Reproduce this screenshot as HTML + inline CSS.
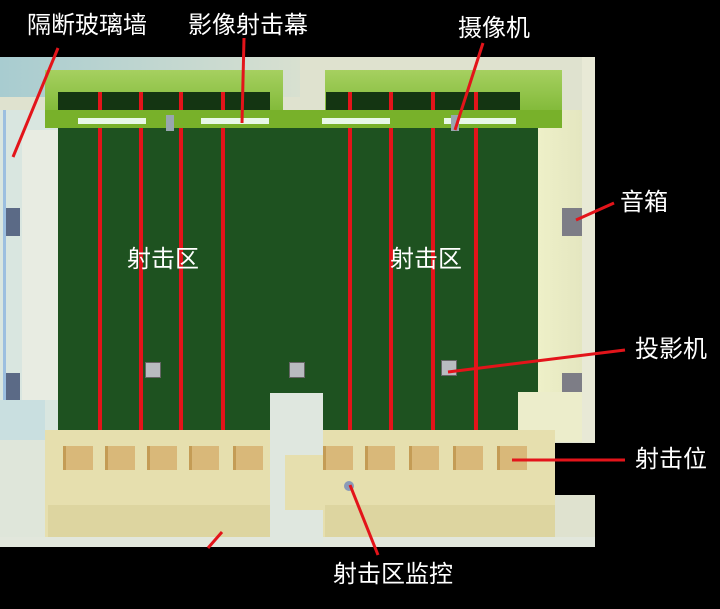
<!DOCTYPE html>
<html><head><meta charset="utf-8"><style>
body{margin:0;background:#000;width:720px;height:609px;overflow:hidden;position:relative;font-family:"Liberation Sans","Noto Sans CJK SC",sans-serif}
div{position:absolute;box-sizing:border-box}
.t{color:#fff;font-size:24px;line-height:24px;white-space:nowrap}
.r{background:#e3141a;width:4px}
.d{background:#d9b879;width:30px;height:24px;border-left:3px solid #c49c55}
.sp{background:#7d7d86;width:20px;height:28px}
.proj{background:#b8bcc0;width:16px;height:16px;border:1px solid #666}
</style></head><body>
<!-- building outer -->
<div style="left:0;top:57px;width:595px;height:490px;background:#dfe2cf"></div>
<div style="left:0;top:57px;width:300px;height:40px;background:linear-gradient(90deg,#a8ccd0,#d8e0d0)"></div>
<div style="left:550px;top:443px;width:50px;height:52px;background:#000"></div>
<!-- left wall glass -->
<div style="left:0;top:110px;width:58px;height:330px;background:#d9e6e0"></div>
<div style="left:3px;top:110px;width:3px;height:300px;background:#9cbfe0"></div>
<div style="left:22px;top:130px;width:36px;height:270px;background:#e8ece2"></div>
<div class="sp" style="left:6px;top:208px;width:14px;background:#5b6a86"></div>
<div class="sp" style="left:6px;top:373px;width:14px;background:#5b6a86"></div>
<div style="left:0;top:400px;width:45px;height:40px;background:#c9dfe0"></div>
<!-- green canopies -->
<div style="left:45px;top:70px;width:238px;height:45px;background:linear-gradient(#a6d060,#7fb836)"></div>
<div style="left:325px;top:70px;width:237px;height:45px;background:linear-gradient(#a6d060,#7fb836)"></div>
<div style="left:58px;top:92px;width:212px;height:20px;background:#143512"></div>
<div style="left:326px;top:92px;width:194px;height:20px;background:#143512"></div>
<!-- field -->
<div style="left:58px;top:110px;width:480px;height:322px;background:#1e5220"></div>
<!-- right wall -->
<div style="left:538px;top:110px;width:44px;height:330px;background:linear-gradient(90deg,#eef0c8,#e4e6c0)"></div>
<div style="left:582px;top:57px;width:13px;height:386px;background:#e8e9d6"></div>
<div class="sp" style="left:562px;top:208px"></div>
<div class="sp" style="left:562px;top:373px"></div>
<div style="left:518px;top:392px;width:64px;height:50px;background:#ecedcb"></div>
<!-- red lines -->
<div class="r" style="left:98px;top:92px;height:338px"></div>
<div class="r" style="left:139px;top:92px;height:338px"></div>
<div class="r" style="left:179px;top:92px;height:338px"></div>
<div class="r" style="left:221px;top:92px;height:338px"></div>
<div class="r" style="left:348px;top:92px;height:338px"></div>
<div class="r" style="left:389px;top:92px;height:338px"></div>
<div class="r" style="left:431px;top:92px;height:338px"></div>
<div class="r" style="left:474px;top:92px;height:338px"></div>
<!-- green band -->
<div style="left:45px;top:110px;width:517px;height:18px;background:#78b12a"></div>
<div style="left:78px;top:118px;width:68px;height:6px;background:#e8f8e8"></div>
<div style="left:201px;top:118px;width:68px;height:6px;background:#e8f8e8"></div>
<div style="left:322px;top:118px;width:68px;height:6px;background:#e8f8e8"></div>
<div style="left:444px;top:118px;width:72px;height:6px;background:#e8f8e8"></div>
<div style="left:166px;top:115px;width:8px;height:16px;background:#99a6b0"></div>
<div style="left:451px;top:115px;width:8px;height:16px;background:#99a6b0"></div>
<!-- projectors -->
<div class="proj" style="left:145px;top:362px"></div>
<div class="proj" style="left:289px;top:362px"></div>
<div class="proj" style="left:441px;top:360px"></div>
<!-- bottom floor -->
<div style="left:45px;top:430px;width:510px;height:107px;background:#e6dfae"></div>
<div style="left:0;top:440px;width:45px;height:100px;background:#dfe6da"></div>
<div style="left:48px;top:505px;width:230px;height:32px;background:#ddd5a0"></div>
<div style="left:325px;top:505px;width:230px;height:32px;background:#ddd5a0"></div>
<div style="left:0;top:537px;width:595px;height:10px;background:#e2e7dc"></div>
<div style="left:270px;top:393px;width:53px;height:150px;background:#dfe7df"></div>
<div style="left:285px;top:455px;width:40px;height:55px;background:#e6dfae"></div>
<!-- desks -->
<div class="d" style="left:63px;top:446px"></div>
<div class="d" style="left:105px;top:446px"></div>
<div class="d" style="left:147px;top:446px"></div>
<div class="d" style="left:189px;top:446px"></div>
<div class="d" style="left:233px;top:446px"></div>
<div class="d" style="left:323px;top:446px"></div>
<div class="d" style="left:365px;top:446px"></div>
<div class="d" style="left:409px;top:446px"></div>
<div class="d" style="left:453px;top:446px"></div>
<div class="d" style="left:497px;top:446px"></div>
<div style="left:344px;top:481px;width:10px;height:10px;border-radius:50%;background:#8a9ab8"></div>
<!-- leader lines -->
<svg style="position:absolute;left:0;top:0" width="720" height="609">
<g stroke="#e3141a" stroke-width="3">
<line x1="58" y1="48" x2="13" y2="157"/>
<line x1="244" y1="38" x2="242" y2="123"/>
<line x1="483" y1="43" x2="455" y2="130"/>
<line x1="614" y1="203" x2="576" y2="220"/>
<line x1="625" y1="350" x2="448" y2="372"/>
<line x1="625" y1="460" x2="512" y2="460"/>
<line x1="350" y1="485" x2="378" y2="555"/>
<line x1="222" y1="532" x2="208" y2="548"/>
</g></svg>
<!-- labels -->
<div class="t" style="left:27px;top:14px">隔断玻璃墙</div>
<div class="t" style="left:188px;top:14px">影像射击幕</div>
<div class="t" style="left:458px;top:17px">摄像机</div>
<div class="t" style="left:620px;top:191px">音箱</div>
<div class="t" style="left:635px;top:338px">投影机</div>
<div class="t" style="left:635px;top:448px">射击位</div>
<div class="t" style="left:333px;top:563px">射击区监控</div>
<div class="t" style="left:127px;top:248px">射击区</div>
<div class="t" style="left:390px;top:248px">射击区</div>
</body></html>
